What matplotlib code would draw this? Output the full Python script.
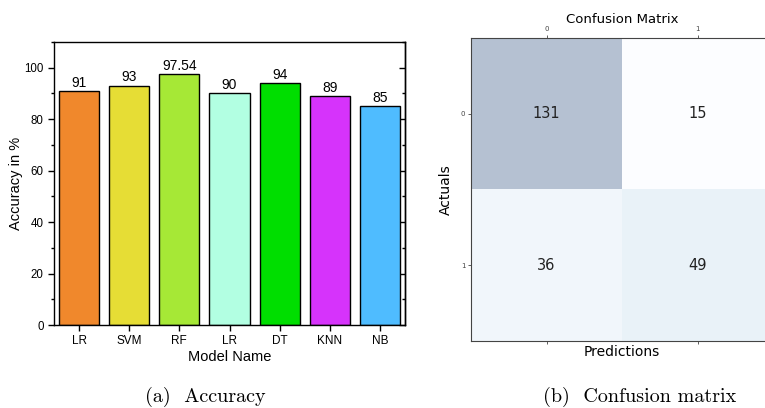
import matplotlib
matplotlib.use("Agg")
import matplotlib.pyplot as plt
import numpy as np
from matplotlib.ticker import MultipleLocator

models = ["LR", "SVM", "RF", "LR", "DT", "KNN", "NB"]
accuracy = [91, 93, 97.54, 90, 94, 89, 85]
acc_labels = ["91", "93", "97.54", "90", "94", "89", "85"]
bar_colors = ["#f0882c", "#e6dd35", "#a6e836", "#b2ffe2", "#00de00", "#d633fb", "#4fbcff"]

cm = np.array([[131, 15], [36, 49]])
cm_ticks = ["0", "1"]

fig = plt.figure(figsize=(7.65, 4.08), dpi=100)

# --- Left: accuracy bar chart ---
ax1 = fig.add_axes([54/765, 83/408, 351/765, 283/408])
x = np.arange(len(models))
ax1.bar(x, accuracy, width=0.8, color=bar_colors, edgecolor="black", linewidth=1.0)
for xi, v, lab in zip(x, accuracy, acc_labels):
    ax1.text(xi, v + 0.5, lab, ha="center", va="bottom", fontsize=10, family="Liberation Sans")
ax1.set_xlim(-0.5, len(models) - 0.5)
ax1.set_ylim(0, 110)
ax1.set_xticks(x)
ax1.set_xticklabels(models, family="Liberation Sans", fontsize=8.5)
ax1.yaxis.set_major_locator(MultipleLocator(20))
ax1.yaxis.set_minor_locator(MultipleLocator(10))
for lab in ax1.get_yticklabels():
    lab.set_family("Liberation Sans")
    lab.set_fontsize(8.3)
ax1.tick_params(axis="y", which="both", direction="out", right=False)
ax1.tick_params(axis="y", which="major", length=4, width=1)
ax1.tick_params(axis="y", which="minor", length=2.5, width=1)
ax1.tick_params(axis="x", direction="out", length=4, width=1)
# right side ticks inward
ax1r = ax1.secondary_yaxis("right")
ax1r.yaxis.set_major_locator(MultipleLocator(20))
ax1r.yaxis.set_minor_locator(MultipleLocator(10))
ax1r.tick_params(axis="y", which="both", direction="in", labelright=False)
ax1r.tick_params(axis="y", which="major", length=4, width=1)
ax1r.tick_params(axis="y", which="minor", length=2.5, width=1)
ax1.set_xlabel("Model Name", family="Liberation Sans", fontsize=10.5, labelpad=2)
ax1.set_ylabel("Accuracy in %", family="Liberation Sans", fontsize=10.5, labelpad=1)
for s in ax1.spines.values():
    s.set_linewidth(1.0)
ax1r.spines["right"].set_linewidth(1.0)

# --- Right: confusion matrix ---
ax2 = fig.add_axes([471/765, 67/408, 302/765, 303/408])
ax2.matshow(cm, cmap=plt.cm.Blues, alpha=0.3, aspect="auto")
for i in range(cm.shape[0]):
    for j in range(cm.shape[1]):
        ax2.text(j, i, str(cm[i, j]), ha="center", va="center", fontsize=10.5, color="#222222")
ax2.set_xticks(range(len(cm_ticks)))
ax2.set_yticks(range(len(cm_ticks)))
ax2.set_xticklabels(cm_ticks, fontsize=5)
ax2.set_yticklabels(cm_ticks, fontsize=5)
ax2.tick_params(length=2, width=0.6, pad=2, colors="#444444")
ax2.set_xlabel("Predictions", fontsize=10, labelpad=1)
ax2.set_ylabel("Actuals", fontsize=10, labelpad=6)
ax2.set_title("Confusion Matrix", fontsize=9.5, pad=11)
for s in ax2.spines.values():
    s.set_linewidth(0.8)
    s.set_color("#444444")

# --- Captions ---
fig.text(205/765, 1 - 397/408, "(a)  Accuracy", ha="center", va="center", fontsize=14.5, family="cmr10")
fig.text(640/765, 1 - 397/408, "(b)  Confusion matrix", ha="center", va="center", fontsize=14.5, family="cmr10")

fig.savefig("out.png", dpi=100)
